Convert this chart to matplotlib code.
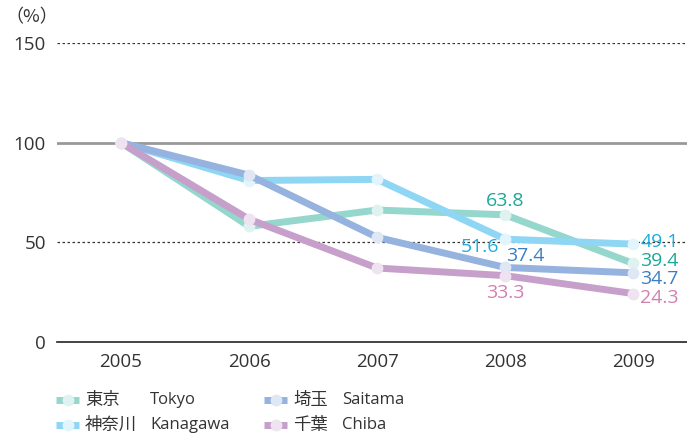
import matplotlib
matplotlib.use("Agg")
import matplotlib.pyplot as plt
from matplotlib.lines import Line2D

plt.rcParams['font.family'] = ['Open Sans', 'Noto Sans CJK JP', 'DejaVu Sans']

years = ["2005", "2006", "2007", "2008", "2009"]
tokyo = [100, 58.0, 66.2, 63.8, 39.4]
kanagawa = [100, 81.0, 81.6, 51.6, 49.1]
saitama = [100, 83.7, 52.5, 37.4, 34.7]
chiba = [100, 61.6, 37.1, 33.3, 24.3]
names_jp = ["東京", "神奈川", "埼玉", "千葉"]
names_en = ["Tokyo", "Kanagawa", "Saitama", "Chiba"]
yticks = [0, 50, 100, 150]

line_colors = ["#95d6cd", "#8fd6f4", "#95b3de", "#c6a0cb"]
face_colors = ["#def3f0", "#e2f5fd", "#dfe7f5", "#efe2f1"]
text_colors = ["#1aa898", "#1aaee0", "#3b7fc2", "#d27fb3"]

W, H = 687, 434
fig = plt.figure(figsize=(W / 100, H / 100), dpi=100)
ax = fig.add_axes([57 / W, (H - 342) / H, (687 - 57) / W, (342 - 43) / H])

x = list(range(len(years)))
series = [tokyo, kanagawa, saitama, chiba]
order = [0, 3, 1, 2]
for i in order:
    ax.plot(x, series[i], color=line_colors[i], lw=5, solid_joinstyle='round',
            marker='o', ms=7.5, mfc=face_colors[i], mec=face_colors[i], zorder=3 + i * 0.1,
            clip_on=False)

ax.set_xlim(-0.5, 4.42)
ax.set_ylim(0, 150)
ax.set_yticks(yticks)
ax.set_yticklabels([str(v) for v in yticks])
ax.set_xticks(x)
ax.set_xticklabels(years)
ax.tick_params(axis='both', length=0, colors="#333333")
ax.tick_params(axis='y', pad=8, labelsize=13.5)
ax.tick_params(axis='x', pad=8, labelsize=13.5)
for s in ['top', 'right', 'left']:
    ax.spines[s].set_visible(False)
ax.spines['bottom'].set_color("#222222")
ax.spines['bottom'].set_linewidth(1.2)

ax.axhline(100, color="#999999", lw=2, zorder=1)
for v in (50, 150):
    ax.axhline(v, color="#333333", lw=0.9, ls=(0, (2, 2)), zorder=1)

fig.text(32 / W, (H - 17) / H, "（%）", fontsize=13, color="#333333", ha='center', va='center',
         family=['Noto Sans CJK JP', 'DejaVu Sans'])

fs = 14
labels = [
    (3.0, 70.7, tokyo[3], 0, 'center'),
    (2.80, 47.7, kanagawa[3], 1, 'center'),
    (3.16, 43.2, saitama[3], 2, 'center'),
    (3.0, 24.6, chiba[3], 3, 'center'),
    (4.055, 50.0, kanagawa[4], 1, 'left'),
    (4.055, 40.6, tokyo[4], 0, 'left'),
    (4.055, 31.4, saitama[4], 2, 'left'),
    (4.055, 22.2, chiba[4], 3, 'left'),
]
for lx, ly, val, ci, ha in labels:
    ax.text(lx, ly, f"{val}", color=text_colors[ci], fontsize=fs, ha=ha, va='center')

# legend (manual)
legend_pos = [(56, 400, 85, 150), (56, 425, 85, 150), (264, 400, 293, 342), (264, 425, 293, 342)]
for i, (lx, ly, jx, ex) in enumerate(legend_pos):
    yy = (H - ly) / H
    fig.add_artist(Line2D([lx / W, (lx + 23) / W], [yy, yy], color=line_colors[i], lw=5,
                          solid_capstyle='butt', transform=fig.transFigure))
    fig.add_artist(Line2D([(lx + 11.5) / W], [yy], marker='o', ms=7.5, mfc=face_colors[i],
                          mec=face_colors[i], transform=fig.transFigure))
    fig.text(jx / W, yy, names_jp[i], fontsize=12.5, color="#333333", va='center', ha='left',
             family=['Noto Sans CJK JP', 'DejaVu Sans'])
    fig.text(ex / W, yy, names_en[i], fontsize=12, color="#333333", va='center', ha='left')

fig.savefig("out.png", dpi=100)
